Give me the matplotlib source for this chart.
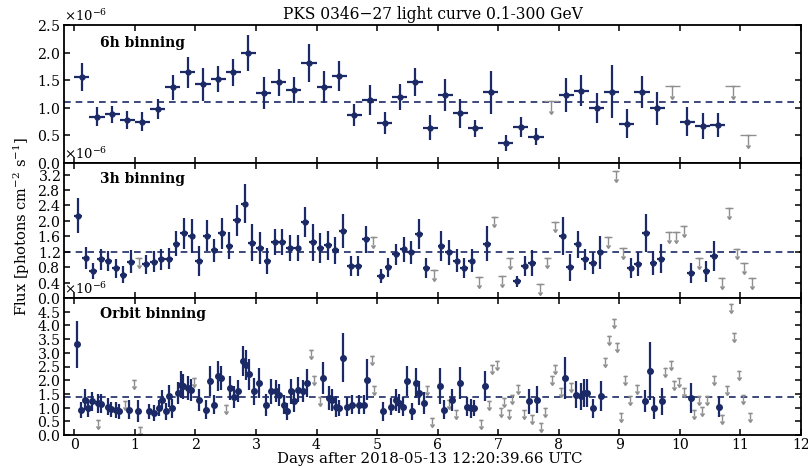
import numpy as np
import matplotlib
matplotlib.use("Agg")
import matplotlib.pyplot as plt
from matplotlib.ticker import ScalarFormatter, FixedLocator

# ---------------- data (flux in units of 1e-6 ph cm^-2 s^-1) ----------------
title = "PKS 0346\u221227 light curve 0.1-300 GeV"
xlabel = "Days after 2018-05-13 12:20:39.66 UTC"
ylabel = r"Flux [photons cm$^{-2}$ s$^{-1}$]"
panel_names = ["6h binning", "3h binning", "Orbit binning"]
mean_levels = [1.1, 1.2, 1.4]

# 6h binning
t6 = [0.125, 0.375, 0.625, 0.875, 1.125, 1.375, 1.625, 1.875, 2.125, 2.375,
      2.625, 2.875, 3.125, 3.375, 3.625, 3.875, 4.125, 4.375, 4.625, 4.875,
      5.125, 5.375, 5.625, 5.875, 6.125, 6.375, 6.625, 6.875, 7.125, 7.375,
      7.625, 8.125, 8.375, 8.625, 8.875, 9.125, 9.375, 9.625, 10.125, 10.375,
      10.625]
f6 = [1.56, 0.84, 0.88, 0.78, 0.75, 0.98, 1.37, 1.64, 1.43, 1.52,
      1.64, 1.99, 1.26, 1.46, 1.32, 1.81, 1.37, 1.58, 0.87, 1.14,
      0.72, 1.20, 1.47, 0.64, 1.24, 0.90, 0.63, 1.28, 0.36, 0.66,
      0.48, 1.23, 1.31, 0.99, 1.29, 0.71, 1.28, 0.99, 0.75, 0.67,
      0.69]
e6 = [0.26, 0.17, 0.16, 0.17, 0.17, 0.18, 0.23, 0.28, 0.30, 0.23,
      0.24, 0.32, 0.29, 0.24, 0.24, 0.34, 0.29, 0.27, 0.20, 0.27,
      0.20, 0.24, 0.26, 0.23, 0.29, 0.26, 0.15, 0.39, 0.14, 0.18,
      0.15, 0.31, 0.28, 0.27, 0.48, 0.26, 0.29, 0.30, 0.26, 0.24,
      0.21]
t6_ul = [7.875, 9.875, 10.875, 11.125]
f6_ul = [1.12, 1.39, 1.39, 0.51]

# 3h binning
t3 = [0.0625, 0.1875, 0.3125, 0.4375, 0.5625, 0.6875, 0.8125, 0.9375, 1.1875, 1.3125,
      1.4375, 1.5625, 1.6875, 1.8125, 1.9375, 2.0625, 2.1875, 2.3125, 2.4375, 2.5625,
      2.6875, 2.8125, 2.9375, 3.0625, 3.1875, 3.3125, 3.4375, 3.5625, 3.6875, 3.8125,
      3.9375, 4.0625, 4.1875, 4.3125, 4.4375, 4.5625, 4.6875, 4.8125, 5.0625, 5.1875,
      5.3125, 5.4375, 5.5625, 5.6875, 5.8125, 6.0625, 6.1875, 6.3125, 6.4375, 6.5625,
      6.8125, 7.3125, 7.4375, 7.5625, 8.0625, 8.1875, 8.3125, 8.4375, 8.5625, 8.6875,
      9.1875, 9.3125, 9.4375, 9.5625, 9.6875, 10.1875, 10.4375, 10.5625]
f3 = [2.13, 1.04, 0.70, 1.00, 0.96, 0.77, 0.60, 0.94, 0.87, 0.94,
      1.00, 1.02, 1.41, 1.68, 1.61, 0.96, 1.61, 1.24, 1.68, 1.35,
      2.02, 2.45, 1.43, 1.30, 0.96, 1.45, 1.45, 1.30, 1.30, 1.97,
      1.45, 1.30, 1.37, 1.24, 1.74, 0.83, 0.83, 1.52, 0.57, 0.80,
      1.13, 1.26, 1.18, 1.66, 0.78, 1.35, 1.18, 0.97, 0.78, 0.97,
      1.41, 0.43, 0.83, 0.91, 1.61, 0.80, 1.39, 1.00, 0.91, 1.18,
      0.78, 0.88, 1.69, 0.91, 1.02, 0.65, 0.69, 1.09]
e3 = [0.45, 0.28, 0.22, 0.27, 0.25, 0.25, 0.22, 0.30, 0.25, 0.27,
      0.28, 0.28, 0.32, 0.40, 0.45, 0.38, 0.40, 0.30, 0.40, 0.35,
      0.40, 0.50, 0.48, 0.42, 0.33, 0.33, 0.33, 0.33, 0.33, 0.40,
      0.48, 0.38, 0.38, 0.35, 0.45, 0.25, 0.25, 0.35, 0.18, 0.25,
      0.28, 0.33, 0.30, 0.40, 0.25, 0.40, 0.33, 0.30, 0.27, 0.30,
      0.45, 0.15, 0.25, 0.33, 0.50, 0.35, 0.35, 0.28, 0.28, 0.42,
      0.27, 0.32, 0.50, 0.32, 0.38, 0.25, 0.27, 0.38]
t3_ul = [1.0625, 4.9375, 5.9375, 6.6875, 6.9375, 7.0625, 7.1875, 7.6875, 7.8125, 7.9375,
         8.8125, 8.9375, 9.0625, 9.8125, 9.9375, 10.0625, 10.3125, 10.6875, 10.8125, 10.9375,
         11.0625, 11.1875]
f3_ul = [1.05, 1.58, 0.72, 0.55, 2.11, 0.57, 1.03, 0.36, 1.05, 1.98,
         1.58, 3.28, 1.30, 1.70, 1.71, 1.86, 1.03, 0.52, 2.33, 1.28,
         0.91, 0.52]

# Orbit binning
to = [0.05, 0.11, 0.18, 0.23, 0.29, 0.39, 0.44, 0.55, 0.61, 0.69,
      0.74, 0.91, 1.05, 1.24, 1.32, 1.40, 1.45, 1.51, 1.57, 1.62,
      1.71, 1.76, 1.80, 1.87, 1.93, 2.06, 2.17, 2.24, 2.31, 2.37,
      2.42, 2.57, 2.63, 2.71, 2.78, 2.83, 2.89, 2.97, 3.05, 3.16,
      3.25, 3.33, 3.38, 3.47, 3.52, 3.58, 3.63, 3.70, 3.77, 3.84,
      4.10, 4.21, 4.26, 4.32, 4.37, 4.43, 4.51, 4.59, 4.70, 4.79,
      4.84, 5.09, 5.23, 5.31, 5.36, 5.42, 5.50, 5.58, 5.64, 5.69,
      5.78, 6.04, 6.11, 6.24, 6.37, 6.49, 6.55, 6.60, 6.79, 7.51,
      7.64, 8.10, 8.28, 8.36, 8.42, 8.47, 8.57, 8.69, 9.43, 9.50,
      9.57, 9.71, 10.18, 10.64]
fo = [3.31, 0.92, 1.29, 0.98, 1.23, 1.16, 1.14, 1.04, 0.94, 0.92,
      0.86, 0.92, 0.86, 0.86, 0.80, 0.98, 1.29, 0.86, 1.41, 0.98,
      1.53, 1.84, 1.78, 1.72, 1.65, 1.29, 0.92, 1.96, 1.10, 2.14,
      2.08, 1.72, 1.38, 1.59, 2.70, 2.57, 2.21, 1.59, 1.90, 1.10,
      1.59, 1.59, 1.47, 1.10, 0.86, 1.59, 1.23, 1.65, 1.59, 1.90,
      2.08, 1.35, 1.29, 1.04, 0.98, 2.82, 1.04, 1.10, 1.10, 1.10,
      2.02, 0.86, 1.04, 1.29, 1.16, 1.04, 1.96, 0.86, 1.90, 1.53,
      1.16, 1.78, 0.92, 1.29, 1.90, 1.04, 0.98, 0.98, 1.78, 1.23,
      1.29, 2.08, 1.47, 1.41, 1.53, 1.53, 0.98, 1.43, 1.23, 2.33,
      0.98, 1.23, 1.35, 1.04]
eo = [0.85, 0.30, 0.38, 0.32, 0.35, 0.35, 0.35, 0.30, 0.28, 0.30,
      0.28, 0.35, 0.40, 0.28, 0.30, 0.30, 0.35, 0.30, 0.40, 0.35,
      0.40, 0.50, 0.45, 0.45, 0.40, 0.40, 0.35, 0.55, 0.35, 0.55,
      0.45, 0.45, 0.40, 0.40, 0.55, 0.55, 0.55, 0.50, 0.55, 0.40,
      0.45, 0.40, 0.40, 0.35, 0.30, 0.45, 0.40, 0.45, 0.40, 0.50,
      0.60, 0.45, 0.40, 0.40, 0.30, 0.90, 0.35, 0.35, 0.35, 0.35,
      0.75, 0.35, 0.30, 0.40, 0.35, 0.35, 0.55, 0.30, 0.55, 0.45,
      0.40, 0.65, 0.35, 0.40, 0.60, 0.35, 0.35, 0.30, 0.55, 0.45,
      0.50, 0.75, 0.50, 0.50, 0.50, 0.50, 0.35, 0.55, 0.40, 1.05,
      0.40, 0.50, 0.55, 0.40]
to_ul = [0.39, 0.83, 0.99, 1.09, 1.98, 2.50, 3.91, 3.96, 4.05, 4.92,
         4.95, 5.83, 5.91, 6.19, 6.30, 6.71, 6.85, 6.90, 6.98, 7.04,
         7.10, 7.18, 7.23, 7.32, 7.43, 7.56, 7.70, 7.78, 7.89, 7.94,
         8.03, 8.20, 8.77, 8.83, 8.91, 8.96, 9.02, 9.10, 9.18, 9.29,
         9.76, 9.85, 9.90, 9.98, 10.07, 10.23, 10.31, 10.37, 10.45, 10.56,
         10.70, 10.78, 10.84, 10.89, 10.97, 11.05, 11.16]
fo_ul = [0.55, 1.25, 2.00, 0.31, 2.08, 1.10, 3.10, 2.17, 1.40, 2.90,
         1.78, 1.78, 0.61, 1.29, 0.92, 0.55, 1.23, 2.57, 2.70, 0.98,
         1.35, 0.92, 1.47, 1.84, 0.92, 0.74, 0.43, 0.98, 2.14, 2.54,
         1.72, 1.90, 2.82, 3.62, 4.23, 3.37, 0.80, 2.14, 1.41, 1.84,
         2.45, 2.70, 1.96, 2.08, 1.72, 0.92, 1.41, 1.04, 1.41, 2.14,
         0.74, 1.78, 4.78, 3.74, 2.33, 1.47, 0.80]

half_bins = [0.125, 0.0625, 0.03]
ylims = [2.5, 3.5, 5.0]
yticks = [[0.0, 0.5, 1.0, 1.5, 2.0, 2.5],
          [0.0, 0.4, 0.8, 1.2, 1.6, 2.0, 2.4, 2.8, 3.2],
          [0.0, 0.5, 1.0, 1.5, 2.0, 2.5, 3.0, 3.5, 4.0, 4.5]]
xticks = [0, 1, 2, 3, 4, 5, 6, 7, 8, 9, 10, 11, 12]
arrow_len = [0.18, 0.2, 0.22]

# ---------------- plotting ----------------
plt.rcParams['font.family'] = ['DejaVu Serif']
plt.rcParams['mathtext.fontset'] = 'dejavuserif'

NAVY = '#1b2a66'
GREY = '#8f8f8f'
SCALE = 1e-6

fig = plt.figure(figsize=(8.08, 4.68), dpi=100)
L, W = 64 / 808, (801 - 64) / 808
edges = [25, 163, 298, 435]
axes = []
for i in range(3):
    top, bot = edges[i], edges[i + 1]
    ax = fig.add_axes([L, 1 - bot / 468, W, (bot - top) / 468])
    axes.append(ax)

data = [(t6, f6, e6, t6_ul, f6_ul), (t3, f3, e3, t3_ul, f3_ul), (to, fo, eo, to_ul, fo_ul)]
for i, ax in enumerate(axes):
    t, f, e, tu, fu = data[i]
    hb = half_bins[i]
    ax.axhline(mean_levels[i] * SCALE, color=NAVY, ls=(0, (4, 3)), lw=1.2, zorder=1)
    # upper limits
    fu_s = np.array(fu) * SCALE
    ax.errorbar(tu, fu_s, xerr=hb, fmt='none', ecolor=GREY, color=GREY,
                elinewidth=1.0, capsize=0, zorder=2)
    ax.errorbar(tu, fu_s, yerr=arrow_len[i] * SCALE, uplims=True, fmt='none',
                ecolor=GREY, color=GREY, elinewidth=1.0, capsize=1.6, zorder=2)
    # detections
    ax.errorbar(t, np.array(f) * SCALE, xerr=hb, yerr=np.array(e) * SCALE, fmt='o',
                color=NAVY, ms=3.5 if i < 2 else 4, elinewidth=1.6, capsize=0, zorder=3)
    ax.set_xlim(-0.17, 12)
    ax.set_ylim(0, ylims[i] * SCALE)
    ax.yaxis.set_major_locator(FixedLocator(np.array(yticks[i]) * SCALE))
    fmt = ScalarFormatter(useMathText=True)
    fmt.set_powerlimits((-3, 3))
    ax.yaxis.set_major_formatter(fmt)
    ax.yaxis.get_offset_text().set_fontsize(9.5)
    ax.set_xticks(xticks)
    ax.tick_params(direction='in', top=True, right=True, length=4, width=1.1,
                   labelsize=10.2, pad=2.5)
    if i < 2:
        ax.tick_params(labelbottom=False)
    for s in ax.spines.values():
        s.set_linewidth(1.3)
    ax.text(0.049, 0.87 if i == 0 else 0.885, panel_names[i], transform=ax.transAxes,
            fontsize=10, fontweight='bold', va='center', ha='left')

axes[0].set_title(title, fontsize=11.2, pad=4)
fig.text(0.5 * (L + L + W) - 0.003, 1 - 459 / 468, xlabel, ha='center', va='center',
         fontsize=10.8)
fig.text(0.027, 0.515, ylabel, rotation=90, ha='center', va='center', fontsize=10.5)

fig.savefig("out.png", dpi=100)
